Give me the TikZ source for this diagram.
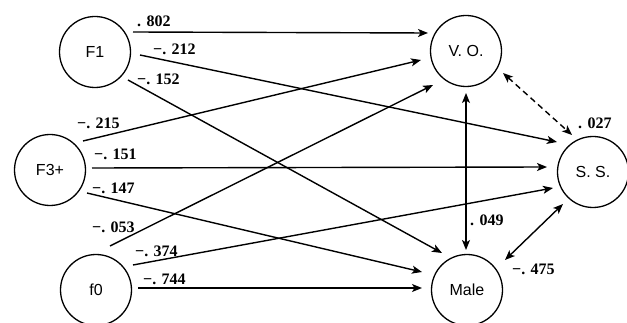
\documentclass[tikz,border=0pt]{standalone}
\usepackage{fontspec}
\setmainfont{Liberation Serif}
\newfontfamily\nodefont{Liberation Sans}
\usetikzlibrary{arrows.meta,calc}
\tikzset{
  mytip/.tip={Stealth[length=10pt,width=8pt,inset=2.5pt]},
  var/.style={circle,draw,line width=1.3pt,minimum size=71pt,inner sep=0pt,
    font=\nodefont\fontsize{16}{18}\selectfont},
  conn/.style={line width=1.4pt,-mytip},
  both/.style={line width=1.4pt,mytip-mytip},
  coef/.style={anchor=west,inner sep=0pt,font=\bfseries\fontsize{16}{18}\selectfont}
}
\begin{document}
\begin{tikzpicture}[x=1pt,y=-1pt]
\fill[white] (0,0) rectangle (627,323);
\useasboundingbox (0,0) rectangle (627,323);

\node[var] (F1) at (95,52) {F1};
\node[var] (F3) at (50,170) {F3+};
\node[var] (f0) at (96,290) {f0};
\node[var] (VO) at (466,51) {V. O.};
\node[var] (SS) at (593,172) {S. S.};
\node[var] (Male) at (467,290) {Male};

% from F1
\draw[conn] ($(F1.center)+(38,-20)$) -- ($(VO.center)+(-38,-18)$);
\draw[conn] ($(F1.center)+(45,3)$) -- ($(SS.center)+(-36,-30)$);
\draw[conn] ($(F1.center)+(33,28)$) -- ($(Male.center)+(-25,-37)$);
% from F3+
\draw[conn] ($(F3.center)+(33,-29)$) -- ($(VO.center)+(-45,9)$);
\draw[conn] ($(F3.center)+(42,-2)$) -- ($(SS.center)+(-46,-5)$);
\draw[conn] ($(F3.center)+(37,23)$) -- ($(Male.center)+(-45,-18)$);
% from f0
\draw[conn] ($(f0.center)+(14,-44)$) -- ($(VO.center)+(-33,34)$);
\draw[conn] ($(f0.center)+(37,-25)$) -- ($(SS.center)+(-40,16)$);
\draw[conn] ($(f0.center)+(42,-2)$) -- ($(Male.center)+(-45,-2)$);
% correlations / double
\draw[both] ($(Male.center)+(-1,-40)$) -- ($(VO.center)+(0,42)$);
\draw[both,dash pattern=on 6pt off 4pt] ($(VO.center)+(37,22)$) -- ($(SS.center)+(-21,-37)$);
\draw[both] ($(Male.center)+(38,-30)$) -- ($(SS.center)+(-30,32)$);

% coefficients
\node[coef] (c1) at (137,21) {. 802};
\node[coef] (c2) at (153,49) {−. 212};
\node[coef] (c3) at (137,79) {−. 152};
\node[coef] (c4) at (77,123) {−. 215};
\node[coef] (c5) at (94,154) {−. 151};
\node[coef] (c6) at (92,188) {−. 147};
\node[coef] (c7) at (92,227) {−. 053};
\node[coef] (c8) at (135,251) {−. 374};
\node[coef] (c9) at (143,279) {−. 744};
\node[coef] (c10) at (470,220) {. 049};
\node[coef] (c11) at (578,123) {. 027};
\node[coef] (c12) at (512,269) {−. 475};
\end{tikzpicture}
\end{document}
